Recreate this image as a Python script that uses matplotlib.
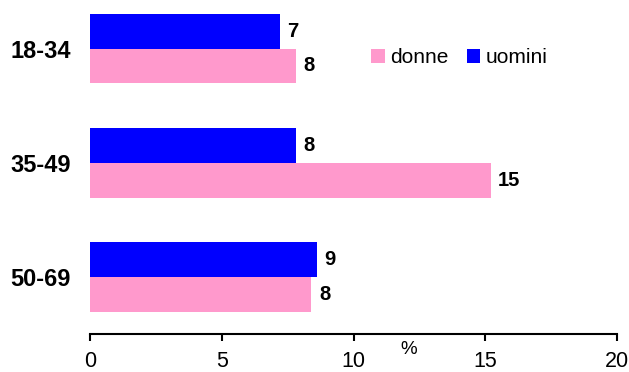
import matplotlib
matplotlib.use("Agg")
import matplotlib.pyplot as plt
import numpy as np

# Data
categories = ["18-34", "35-49", "50-69"]
donne = [7.8, 15.2, 8.4]
uomini = [7.2, 7.8, 8.6]
series_names = ["donne", "uomini"]
xticks = [0, 5, 10, 15, 20]

plt.rcParams["font.family"] = ["Liberation Sans", "DejaVu Sans"]

PINK = "#FF99CC"
BLUE = "#0000FF"

fig = plt.figure(figsize=(6.29, 3.72), dpi=100)
W, H = 629, 372
ax = fig.add_axes([90 / W, (H - 334) / H, (617 - 90) / W, 334 / H + 8.5 / H])

y = np.arange(len(categories))
bh = 0.305
b_u = ax.barh(y - bh / 2, uomini, height=bh, color=BLUE, label=series_names[1])
b_d = ax.barh(y + bh / 2, donne, height=bh, color=PINK, label=series_names[0])

for bars, vals in ((b_u, uomini), (b_d, donne)):
    for rect, v in zip(bars, vals):
        ax.annotate(f"{v:.0f}", xy=(v, rect.get_y() + rect.get_height() / 2),
                    xytext=(5.5, 0), textcoords="offset points",
                    ha="left", va="center", fontsize=14.5, fontweight="bold")

ax.set_xlim(0, 20)
ax.set_ylim(2.5, -0.5)
ax.set_xticks(xticks)
ax.set_xticklabels([str(t) for t in xticks], fontsize=15.5)
ax.set_yticks(y)
ax.set_yticklabels(categories, fontsize=17, fontweight="bold")
ax.tick_params(axis="y", length=0, pad=14)
ax.tick_params(axis="x", direction="out", length=5, width=1.5, pad=7.5)

for s in ("top", "right", "left"):
    ax.spines[s].set_visible(False)
ax.spines["bottom"].set_linewidth(1.5)

fig.text(409 / W, 1 - 350 / H, "%", ha="center", va="center", fontsize=13.5)

leg = fig.legend(handles=[b_d, b_u], labels=series_names, loc="center left",
                 bbox_to_anchor=(371 / W, 1 - 57.5 / H), ncol=2, frameon=False,
                 fontsize=15, handlelength=0.65, handleheight=0.65,
                 handletextpad=0.25, columnspacing=0.9, borderpad=0,
                 borderaxespad=0)

fig.savefig("out.png", dpi=100)
